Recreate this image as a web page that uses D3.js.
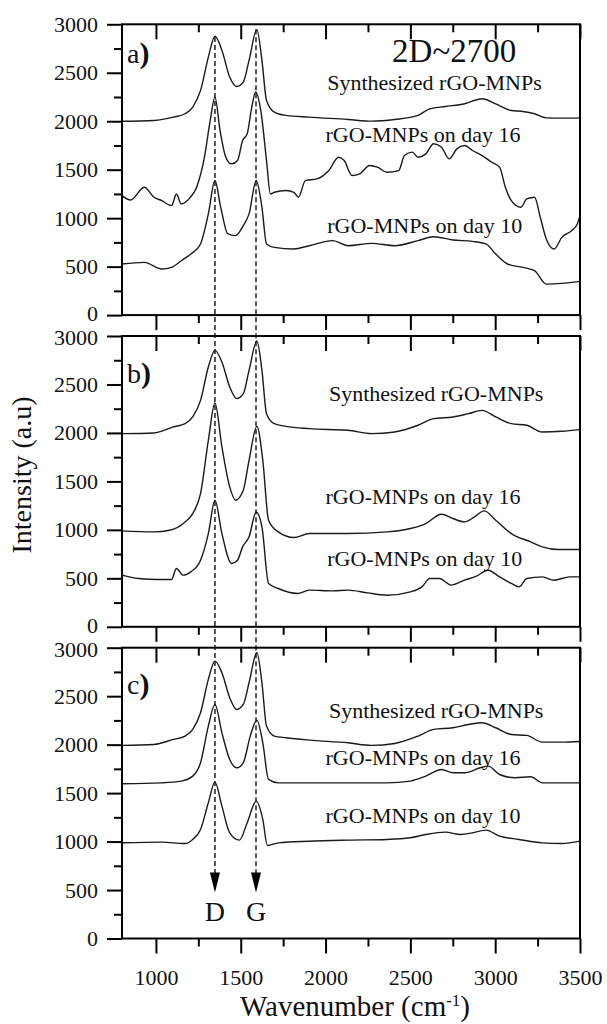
<!DOCTYPE html>
<html>
<head>
<meta charset="utf-8">
<script src="https://cdn.jsdelivr.net/npm/d3@7"></script>
<style>
body { margin: 0; background: #fff; }
svg { font-family: "Liberation Serif", "Times New Roman", serif; }
</style>
</head>
<body>
<div id="chart"></div>
<script>
// Raman spectra: [wavenumber, intensity]
var aSynth = [[800,2000],[989,2008],[1103,2042],[1172,2077],[1217,2146],[1263,2318],[1309,2662],[1348,2876],[1389,2731],[1435,2456],[1476,2359],[1515,2404],[1549,2628],[1595,2945],[1625,2628],[1652,2214],[1698,2094],[1767,2060],[1904,2042],[2133,2018],[2271,2001],[2408,2018],[2545,2060],[2614,2128],[2706,2152],[2820,2180],[2923,2232],[3003,2180],[3095,2111],[3164,2101],[3232,2077],[3301,2035],[3393,2032],[3500,2035]];
var a16 = [[800,1233],[851,1188],[931,1319],[989,1216],[1034,1181],[1092,1130],[1121,1250],[1149,1147],[1195,1199],[1240,1319],[1286,1629],[1320,2008],[1348,2249],[1378,1905],[1412,1629],[1446,1560],[1481,1595],[1511,1801],[1538,1870],[1565,2146],[1588,2301],[1618,2111],[1652,1595],[1675,1250],[1698,1267],[1767,1285],[1813,1267],[1840,1216],[1881,1388],[1950,1405],[2019,1491],[2076,1629],[2110,1595],[2156,1440],[2202,1457],[2259,1543],[2305,1526],[2362,1474],[2431,1491],[2465,1646],[2511,1681],[2545,1629],[2591,1663],[2637,1767],[2683,1732],[2729,1612],[2774,1715],[2820,1750],[2866,1698],[2923,1646],[2980,1577],[3026,1526],[3060,1319],[3095,1181],[3152,1112],[3186,1199],[3232,1216],[3266,1009],[3301,785],[3347,682],[3393,802],[3450,871],[3484,940],[3500,1026]];
var a10 = [[800,527],[931,544],[1034,475],[1092,492],[1149,561],[1206,630],[1263,734],[1309,1044],[1348,1388],[1382,1112],[1424,837],[1469,820],[1515,923],[1549,1044],[1591,1388],[1625,1112],[1652,734],[1698,699],[1813,682],[1904,716],[2042,768],[2133,716],[2271,740],[2408,716],[2545,768],[2637,809],[2751,775],[2866,761],[2946,734],[3003,630],[3072,527],[3164,492],[3232,458],[3301,320],[3393,327],[3500,348]];

var bSynth = [[800,1993],[989,2000],[1103,2062],[1172,2096],[1217,2165],[1263,2336],[1309,2680],[1348,2852],[1389,2732],[1435,2474],[1476,2354],[1515,2405],[1549,2646],[1595,2948],[1625,2646],[1652,2199],[1698,2096],[1767,2068],[1904,2044],[2133,2027],[2271,1993],[2408,2010],[2545,2079],[2637,2147],[2751,2165],[2843,2199],[2923,2233],[3003,2165],[3095,2096],[3186,2079],[3278,2010],[3393,2017],[3500,2034]];
var b16 = [[800,990],[989,979],[1080,996],[1172,1082],[1217,1168],[1263,1374],[1309,1924],[1348,2309],[1389,1855],[1435,1443],[1469,1306],[1515,1409],[1549,1718],[1595,2068],[1630,1718],[1664,1100],[1721,979],[1813,921],[1904,962],[2133,962],[2362,979],[2500,1014],[2591,1065],[2683,1161],[2751,1117],[2820,1082],[2878,1134],[2935,1196],[3003,1100],[3095,962],[3209,876],[3278,825],[3370,797],[3500,797]];
var b10 = [[800,533],[897,498],[1011,488],[1092,488],[1121,601],[1160,533],[1206,567],[1263,687],[1309,962],[1348,1306],[1389,962],[1446,653],[1481,687],[1511,825],[1549,928],[1591,1185],[1625,1031],[1664,447],[1721,395],[1836,344],[1904,378],[2042,371],[2133,378],[2248,350],[2362,326],[2500,361],[2568,412],[2614,498],[2671,498],[2740,430],[2820,481],[2889,522],[2958,584],[3026,515],[3095,447],[3141,412],[3186,498],[3278,515],[3347,481],[3439,515],[3500,515]];

var cSynth = [[800,1992],[989,2002],[1103,2054],[1172,2088],[1217,2157],[1263,2329],[1309,2673],[1348,2862],[1389,2742],[1435,2484],[1476,2363],[1515,2415],[1549,2638],[1595,2948],[1625,2638],[1652,2191],[1698,2088],[1767,2071],[1904,2047],[2133,2019],[2271,1992],[2408,2012],[2545,2088],[2637,2157],[2751,2174],[2843,2208],[2923,2226],[3003,2174],[3095,2105],[3186,2095],[3278,2026],[3393,2026],[3500,2033]];
var c16 = [[800,1596],[1034,1606],[1149,1624],[1217,1675],[1263,1813],[1309,2191],[1348,2415],[1389,2122],[1435,1847],[1476,1761],[1515,1813],[1556,2088],[1595,2253],[1630,2019],[1664,1641],[1721,1606],[1904,1606],[2133,1606],[2362,1606],[2500,1624],[2591,1675],[2683,1744],[2751,1710],[2820,1710],[2912,1761],[2958,1778],[3026,1692],[3118,1658],[3209,1668],[3278,1606],[3393,1606],[3500,1606]];
var c10 = [[800,987],[1034,994],[1172,980],[1217,1022],[1263,1125],[1309,1400],[1348,1613],[1389,1366],[1435,1090],[1492,1015],[1538,1194],[1591,1417],[1630,1228],[1657,960],[1721,987],[1904,1004],[2133,1015],[2362,1022],[2500,1039],[2591,1073],[2706,1097],[2797,1073],[2866,1090],[2946,1118],[3026,1056],[3141,1022],[3278,987],[3393,980],[3500,1004]];

var seriesNames = ["Synthesized rGO-MNPs", "rGO-MNPs on day 16", "rGO-MNPs on day 10"];
var panelTags = ["a", "b", "c"];
// where each curve label sits, in [wavenumber, intensity] of its panel
var labelPosA = [[2010,2325],[2000,1784],[2010,847]];
var labelPosB = [[2020,2326],[2000,1271],[2010,629]];
var labelPosC = [[2020,2270],[2000,1785],[2000,1187]];
var tagPos = [[830,2600],[830,2510],[830,2520]];

var xMajor = [1000, 1500, 2000, 2500, 3000, 3500];
var xMinor = [1250, 1750, 2250, 2750, 3250];
var yMajor = [0, 500, 1000, 1500, 2000, 2500, 3000];
var yMinor = [250, 750, 1250, 1750, 2250, 2750];

var bandD = 1348, bandG = 1590;

var panels = [
    {series: [aSynth, a16, a10], labels: labelPosA},
    {series: [bSynth, b16, b10], labels: labelPosB},
    {series: [cSynth, c16, c10], labels: labelPosC}
];

var W = 607, H = 1024;
var left = 122, right = 580;
var tops = [24.3, 336, 647.7];
var ph = 290.8;

var svg = d3.select("#chart").append("svg")
    .attr("width", W)
    .attr("height", H);

var x = d3.scaleLinear().domain([800, 3500]).range([left, right]);
var ys = tops.map(t => d3.scaleLinear().domain([0, 3000]).range([t + ph, t]));

var line = d3.line()
    .x(d => x(d[0]))
    .y(d => 0)
    .curve(d3.curveMonotoneX);

panels.forEach((p, i) => {
    var y = ys[i];
    var g = svg.append("g");

    // curves
    p.series.forEach(s => {
        g.append("path")
            .datum(s)
            .attr("fill", "none")
            .attr("stroke", "#1a1a1a")
            .attr("stroke-width", 1.4)
            .attr("d", line.y(d => y(d[1])));
    });

    // axes
    var bottom = g.append("g").attr("transform", "translate(0," + (tops[i] + ph) + ")");
    bottom.call(d3.axisBottom(x).tickValues(xMajor).tickSize(15).tickPadding(16)
        .tickFormat(i == 2 ? d3.format("d") : ""));
    bottom.append("g").call(d3.axisBottom(x).tickValues(xMinor).tickSize(8).tickFormat(""));

    var top = g.append("g").attr("transform", "translate(0," + tops[i] + ")");
    top.call(d3.axisTop(x).tickValues(xMajor).tickSize(-15).tickFormat(""));
    top.append("g").call(d3.axisTop(x).tickValues(xMinor).tickSize(-8).tickFormat(""));

    var lft = g.append("g").attr("transform", "translate(" + left + ",0)");
    lft.call(d3.axisLeft(y).tickValues(yMajor).tickSize(15).tickPadding(9).tickFormat(d3.format("d")));
    lft.append("g").call(d3.axisLeft(y).tickValues(yMinor).tickSize(8).tickFormat(""));

    // keep the 0 of one panel and the 3000 of the next from colliding
    lft.selectAll(".tick text")
        .attr("y", d => (d == 0 && i < 2) ? -1.6 : (d == 3000 && i > 0) ? 1.6 : 0);

    g.selectAll(".domain").remove();
    g.selectAll(".tick line").attr("stroke", "#000").attr("stroke-width", 2);
    g.selectAll(".tick text")
        .attr("fill", "#111")
        .attr("font-family", "Liberation Serif, serif")
        .style("font-family", "'Liberation Serif', serif")
        .style("font-size", "22px");

    g.append("rect")
        .attr("x", left).attr("y", tops[i])
        .attr("width", right - left).attr("height", ph)
        .attr("fill", "none").attr("stroke", "#000").attr("stroke-width", 2);

    // panel tag
    var tag = g.append("text")
        .attr("x", x(tagPos[i][0])).attr("y", y(tagPos[i][1]))
        .attr("fill", "#111")
        .style("font-size", "28px")
        .text(panelTags[i]);
    tag.append("tspan").style("font-weight", "bold").style("font-size", "30px").text(")");

    // curve labels
    p.labels.forEach((pos, k) => {
        g.append("text")
            .attr("x", x(pos[0])).attr("y", y(pos[1]))
            .attr("fill", "#111")
            .style("font-size", "22px")
            .text(seriesNames[k]);
    });
});

svg.append("text")
    .attr("x", x(2392)).attr("y", ys[0](2611))
    .attr("fill", "#111")
    .style("font-size", "33px")
    .text("2D~2700");

// dashed guides for D and G bands
var bands = [[bandD, 2870, "D"], [bandG, 2950, "G"]];
var tipY = ys[2](475);
bands.forEach(b => {
    var bx = x(b[0]);
    svg.append("line")
        .attr("x1", bx).attr("x2", bx)
        .attr("y1", ys[0](b[1])).attr("y2", tipY - 18)
        .attr("stroke", "#111").attr("stroke-width", 1.4)
        .attr("stroke-dasharray", "5,3");
    svg.append("path")
        .attr("d", "M" + (bx - 5) + "," + (tipY - 20) + "L" + (bx + 5) + "," + (tipY - 20) + "L" + bx + "," + tipY + "Z")
        .attr("fill", "#000");
    svg.append("text")
        .attr("x", bx).attr("y", ys[2](176))
        .attr("text-anchor", "middle")
        .attr("fill", "#111")
        .style("font-size", "28px")
        .text(b[2]);
});

// axis titles
svg.append("text")
    .attr("transform", "translate(31,475) rotate(-90)")
    .attr("text-anchor", "middle")
    .attr("fill", "#111")
    .style("font-size", "28px")
    .text("Intensity (a.u)");

var xt = svg.append("text")
    .attr("x", 355).attr("y", 1016)
    .attr("text-anchor", "middle")
    .attr("fill", "#111")
    .style("font-size", "29px")
    .text("Wavenumber (cm");
xt.append("tspan").attr("dy", -10).style("font-size", "17px").text("-1");
xt.append("tspan").attr("dy", 10).text(")");
</script>
</body>
</html>
